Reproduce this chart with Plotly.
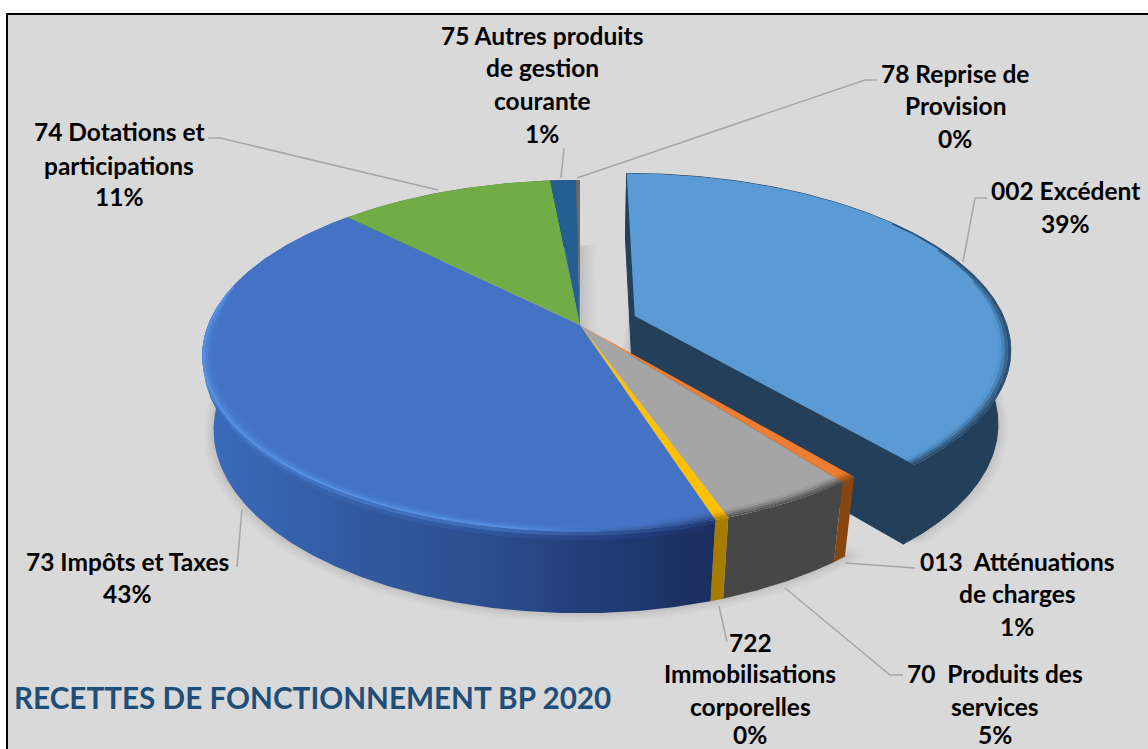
import numpy as np
import plotly.graph_objects as go

# ---------- data ----------
categories = ["002 Excédent", "013 Atténuations de charges", "70 Produits des services",
              "722 Immobilisations corporelles", "73 Impôts et Taxes",
              "74 Dotations et participations", "75 Autres produits de gestion courante",
              "78 Reprise de Provision"]
values = [39.0, 0.6, 5.0, 0.5, 42.5, 10.9, 1.3, 0.2]
top_colors = ["#5b9bd5", "#ed7d31", "#a5a5a5", "#ffc000", "#4472c4", "#70ad47", "#255e91", "#6e6a66"]
wall_colors = ["#243f5a", "#87460f", "#474747", "#a67c00", "#2a4a8a", "#43682b", "#16395a", "#444444"]
rim_colors = [
    ["#5596cf", "#4a81b5", "#3a6488", "#2d4d6e"],
    ["#e37729", "#cc6c22", "#ad5c1a", "#954f13"],
    ["#9b9b9b", "#858585", "#6c6c6c", "#565656"],
    ["#f7ba00", "#e2a800", "#c99500", "#b38500"],
]
exploded = [True, False, False, False, False, False, False, False]
blue_wall_scale = [[0, "#3a6dbd"], [0.3, "#32599f"], [0.55, "#2b4d8e"], [0.8, "#1f3a72"], [1, "#1a2c5c"]]
blue_rim_scales = [
    [[0, "#4574c6"], [0.6, "#4574c6"], [0.85, "#4472c4"], [1, "#3f69b5"]],
    [[0, "#4779cb"], [0.6, "#4779cb"], [0.85, "#4472c4"], [1, "#3a60a8"]],
    [[0, "#4c82d4"], [0.6, "#4c82d4"], [0.85, "#3f6ab8"], [1, "#304f90"]],
    [[0, "#578fe2"], [0.6, "#578fe2"], [0.85, "#39609f"], [1, "#27427c"]],
]
blue_lip_scales = [
    [[0, "#4478c8"], [0.55, "#3f6cb8"], [0.85, "#2b4d8e"], [1, "#1f3468"]],
    [[0, "#3c6ebd"], [0.55, "#30569b"], [0.85, "#22397a"], [1, "#1b2e60"]],
]

labels = [
    (["75 Autres produits", "de gestion", "courante", "1%"], 542, [35, 67, 100, 133]),
    (["78 Reprise de", "Provision", "0%"], 955, [73, 105, 138]),
    (["74 Dotations et", "participations", "11%"], 119, [131, 165, 196]),
    (["002 Excédent", "39%"], 1065, [190, 223]),
    (["013  Atténuations", "de charges", "1%"], 1017, [561, 593, 626]),
    (["73 Impôts et Taxes", "43%"], 127, [561, 593]),
    (["722", "Immobilisations", "corporelles", "0%"], 750, [642, 673, 706, 734]),
    (["70  Produits des", "services", "5%"], 995, [673, 706, 734]),
]
title_text = "RECETTES DE FONCTIONNEMENT BP 2020"
leaders = [
    ([561, 564], [178, 148]),
    ([577, 865, 877], [178, 80, 80]),
    ([208, 220, 438], [138, 138, 190]),
    ([963, 975, 987], [262, 198, 198]),
    ([845, 907, 915], [563, 568, 568]),
    ([785, 890, 903], [588, 675, 675]),
    ([719, 727], [606, 642]),
    ([242, 237], [509, 567]),
]

# ---------- perspective of the pie ----------
X0, Y0, A, B, K, M, D = 580, 325, 372, 170.4, 0.175, 0.03, 76
EXPLODE = 0.158


def project(u, v, z=0.0):
    w = 1 + K * v + M * z
    return X0 + A * u / w, Y0 + (-B * v + D * z) / w


fractions = np.cumsum([0] + values) / sum(values)
starts = fractions[:-1] * 2 * np.pi
ends = fractions[1:] * 2 * np.pi

fig = go.Figure()


def poly(x, y, color=None, gradient=None, edge=None):
    kw = dict(fillgradient=gradient) if gradient else dict(fillcolor=color)
    line = dict(width=1, color=edge) if edge else dict(width=0)
    fig.add_trace(go.Scatter(x=list(x), y=list(y), mode="lines", fill="toself",
                             line=line, hoverinfo="skip", showlegend=False, **kw))


def arc(t0, t1, r=1.0, ex=0.0, ey=0.0, z=0.0):
    n = max(3, int(abs(t1 - t0) * 120))
    t = np.linspace(t0, t1, n)
    return project(ex + r * np.sin(t), ey + r * np.cos(t), z)


def offset(i):
    if not exploded[i]:
        return 0.0, 0.0
    m = (starts[i] + ends[i]) / 2
    return EXPLODE * np.sin(m), EXPLODE * np.cos(m)


def wedge_top(i):
    ex, ey = offset(i)
    ax, ay = arc(starts[i], ends[i], 1, ex, ey)
    cx, cy = project(ex, ey)
    return np.r_[cx, ax, cx], np.r_[cy, ay, cy]


def wall(t0, t1, ex, ey, z0=0.0, z1=1.0):
    ax, ay = arc(t0, t1, 1, ex, ey, z0)
    bx, by = arc(t0, t1, 1, ex, ey, z1)
    return np.r_[ax, bx[::-1], ax[0]], np.r_[ay, by[::-1], ay[0]]


def band(t0, t1, r0, r1, ex, ey):
    ax, ay = arc(t0, t1, r0, ex, ey)
    bx, by = arc(t0, t1, r1, ex, ey)
    return np.r_[ax, bx[::-1], ax[0]], np.r_[ay, by[::-1], ay[0]]


# soft floor shadows
main_s, main_e = starts[1], ends[-1]
ex0, ey0 = offset(0)
for grow, alpha in [(0.05, 0.02), (0.04, 0.025), (0.03, 0.03), (0.02, 0.03), (0.01, 0.035)]:
    for t0, t1, ex, ey, sh in [(main_s, main_e, 0, 0, 1), (starts[0], ends[0], ex0, ey0, -1)]:
        ax, ay = arc(t0 - sh * grow, t1 + sh * grow, 1 + grow * 0.55, ex, ey, 1.0 + grow * 0.5)
        cx, cy = project(ex + sh * grow, ey, 1.0)
        poly(np.r_[cx, ax, cx], np.r_[cy, ay, cy], f"rgba(70,70,70,{alpha})")

# exploded slice: walls then top
for i in [j for j, e in enumerate(exploded) if e]:
    ex, ey = offset(i)
    poly(*wall(starts[i], ends[i], ex, ey), wall_colors[i], edge=wall_colors[i])
    for t in (starts[i], ends[i]):
        px, py = project(ex + np.sin(t), ey + np.cos(t), 0)
        qx, qy = project(ex + np.sin(t), ey + np.cos(t), 1)
        cx, cy = project(ex, ey, 0)
        dx, dy = project(ex, ey, 1)
        poly([px, qx, dx, cx, px], [py, qy, dy, cy, py], wall_colors[i], edge=wall_colors[i])

# main pie walls
for i in [j for j, e in enumerate(exploded) if not e]:
    ex, ey = offset(i)
    t0, t1 = starts[i], ends[i]
    if top_colors[i] == "#4472c4":
        x, y = wall(t0, t1, ex, ey)
        poly(x, y, gradient=dict(type="horizontal", start=202, stop=725, colorscale=blue_wall_scale))
        for k, (z0, z1) in enumerate([(0, 0.05), (0.05, 0.1)]):
            poly(*wall(t0, min(t1, np.pi * 1.52), ex, ey, z0, z1),
                 gradient=dict(type="horizontal", start=202, stop=725, colorscale=blue_lip_scales[k]))
    else:
        poly(*wall(t0, t1, ex, ey), wall_colors[i])

# top faces
for i in range(len(values)):
    poly(*wedge_top(i), top_colors[i])

# bevel bands at the front rim (tapered ends)
radii = [0.968, 0.977, 0.985, 0.993, 1.0]
for i, rims in enumerate(rim_colors):
    ex, ey = offset(i)
    t1 = ends[i]
    for k, col in enumerate(rims):
        t0 = max(starts[i], np.pi * (0.5 - 0.07 * k))
        poly(*band(t0, t1, radii[k], radii[k + 1], ex, ey), col)
blue = top_colors.index("#4472c4")
for k, scale in enumerate(blue_rim_scales):
    poly(*band(starts[blue], np.pi * (1.5 + 0.025 * k), radii[k], radii[k + 1], 0, 0),
         gradient=dict(type="horizontal", start=202, stop=725, colorscale=scale))

# leader lines
for lx, ly in leaders:
    fig.add_trace(go.Scatter(x=lx, y=ly, mode="lines", line=dict(color="#a6a6a6", width=1.5),
                             hoverinfo="skip", showlegend=False))

# labels
annotations = []
for lines, cx, ys in labels:
    for line, yy in zip(lines, ys):
        annotations.append(dict(x=cx, y=yy, text=f"<b>{line}</b>", showarrow=False, xanchor="center",
                                yanchor="middle", font=dict(family="Lato", size=24.5, color="#000000")))
annotations.append(dict(x=12, y=697, text=f"<b>{title_text}</b>", showarrow=False, xanchor="left",
                        yanchor="middle", font=dict(family="Lato", size=29.7, color="#1f4e79")))

fig.update_layout(
    width=1148, height=749, margin=dict(l=0, r=0, t=0, b=0),
    paper_bgcolor="#ffffff", plot_bgcolor="#ffffff", showlegend=False,
    xaxis=dict(range=[0, 1148], visible=False, fixedrange=True),
    yaxis=dict(range=[749, 0], visible=False, fixedrange=True),
    annotations=annotations,
    shapes=[dict(type="rect", x0=7, x1=1160, y0=14, y1=770, layer="below",
                 fillcolor="#d9d9d9", line=dict(color="#000000", width=2))],
)
fig.write_html("out.html", config={"displayModeBar": False},
               post_script="document.body.style.margin='0';document.documentElement.style.overflow='hidden';")
